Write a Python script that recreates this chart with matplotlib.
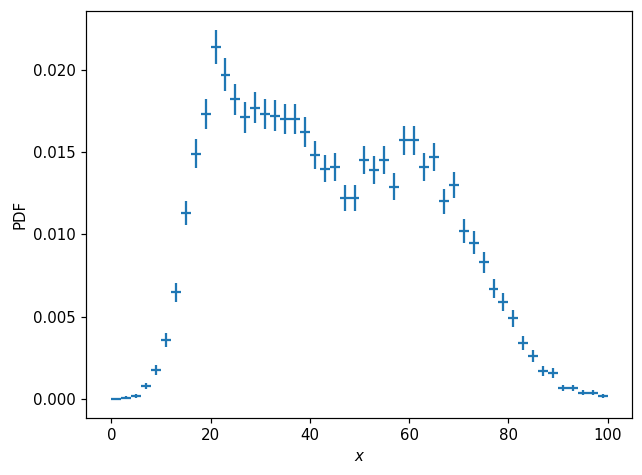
import numpy as np
import matplotlib.pyplot as plt

# bin centres (bins of width 2 on [0, 100])
bin_centers = [1, 3, 5, 7, 9, 11, 13, 15, 17, 19,
               21, 23, 25, 27, 29, 31, 33, 35, 37, 39,
               41, 43, 45, 47, 49, 51, 53, 55, 57, 59,
               61, 63, 65, 67, 69, 71, 73, 75, 77, 79,
               81, 83, 85, 87, 89, 91, 93, 95, 97, 99]
bin_width = 2.0
n_samples = 10000

pdf = [0.0000, 0.0001, 0.0002, 0.0008, 0.0018, 0.0036, 0.0065, 0.0113, 0.0149, 0.0173,
       0.0214, 0.0197, 0.0182, 0.0171, 0.0177, 0.0173, 0.0172, 0.0170, 0.0170, 0.0162,
       0.0148, 0.0140, 0.0141, 0.0122, 0.0122, 0.0145, 0.0139, 0.0145, 0.0129, 0.0157,
       0.0157, 0.0141, 0.0147, 0.0120, 0.0130, 0.0102, 0.0095, 0.0083, 0.0067, 0.0059,
       0.0049, 0.0034, 0.0026, 0.0017, 0.0016, 0.0007, 0.0007, 0.0004, 0.0004, 0.0002]

pdf = np.array(pdf)
# poisson error on each bin, expressed as density
yerr = np.sqrt(pdf / (n_samples * bin_width))

dpi = 108
fig, ax = plt.subplots(figsize=(642 / dpi, 475 / dpi), dpi=dpi)
ax.errorbar(bin_centers, pdf, xerr=bin_width / 2, yerr=yerr, fmt="none", ecolor="C0")
ax.set_xlabel("$x$")
ax.set_ylabel("PDF")
fig.subplots_adjust(left=0.1347, right=0.9852, top=0.9768, bottom=0.1206)
fig.savefig("out.png", dpi=dpi)
